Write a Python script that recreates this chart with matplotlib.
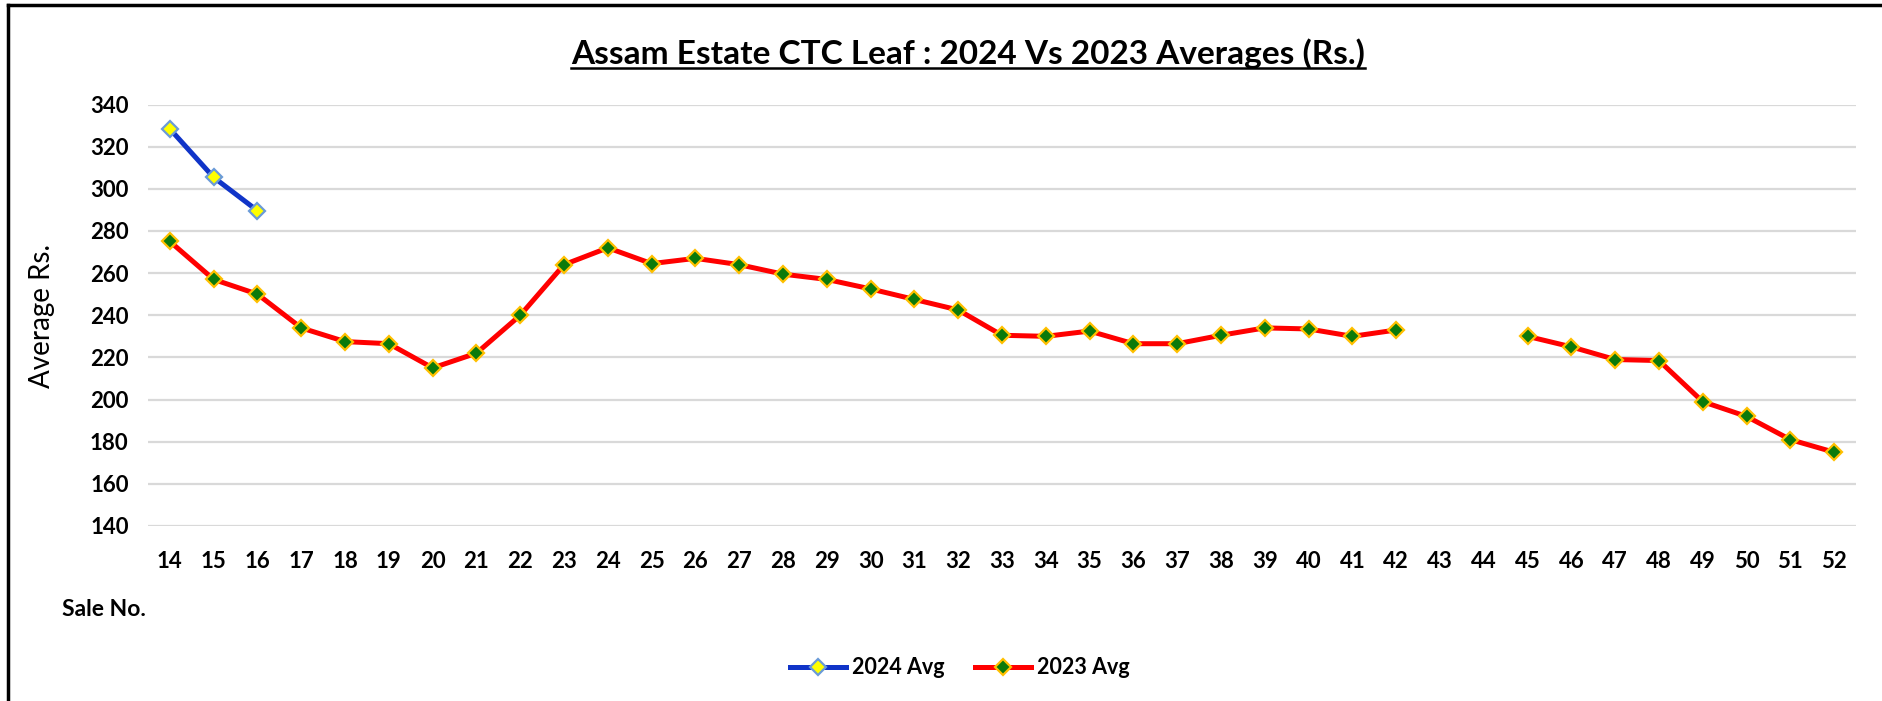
import numpy as np
import matplotlib
matplotlib.use("Agg")
import matplotlib.pyplot as plt
from matplotlib.lines import Line2D

plt.rcParams['font.family'] = ['Lato', 'DejaVu Sans']

# ---- data ----
sale_no = list(range(14, 53))
avg_2024 = [328.4, 305.4, 289.6] + [None] * 36
avg_2023 = [275, 257, 250, 234, 227.5, 226.5, 215, 222, 240, 264,
            272, 264.5, 267, 264, 259.5, 257, 252.5, 247.5, 242.5, 230.5,
            230, 232.5, 226.5, 226.5, 230.5, 234, 233.5, 230, 233, None,
            None, 230, 225, 219, 218.5, 199, 192, 181, 175]
y_ticks = [140, 160, 180, 200, 220, 240, 260, 280, 300, 320, 340]
title = "Assam Estate CTC Leaf : 2024 Vs 2023 Averages (Rs.)"

W, H = 1883, 701
fig = plt.figure(figsize=(W / 100, H / 100), dpi=100)
fig.patch.set_facecolor('white')

left, right, bottom, top = 148 / W, 1856 / W, 1 - 526 / H, 1 - 104.5 / H
ax = fig.add_axes([left, bottom, right - left, top - bottom])

y24 = np.array([np.nan if v is None else v for v in avg_2024], dtype=float)
y23 = np.array([np.nan if v is None else v for v in avg_2023], dtype=float)

ax.plot(sale_no, y24, color='#1034C8', lw=3.6, marker='D', markersize=8.5,
        markerfacecolor='#FFFF00', markeredgecolor='#6A9BD8', markeredgewidth=1.6,
        label='2024 Avg', zorder=3)
ax.plot(sale_no, y23, color='#FF0000', lw=3.6, marker='D', markersize=8.5,
        markerfacecolor='#0B7A0B', markeredgecolor='#FFC000', markeredgewidth=1.6,
        label='2023 Avg', zorder=3)

ax.set_xlim(sale_no[0] - 0.5, sale_no[-1] + 0.5)
ax.set_ylim(y_ticks[0], y_ticks[-1])
ax.set_yticks(y_ticks)
ax.set_xticks(sale_no)
ax.set_xticklabels([str(s) for s in sale_no])
ax.grid(axis='y', color='#D9D9D9', lw=1.6)
ax.set_axisbelow(True)
for s in ax.spines.values():
    s.set_visible(False)
ax.tick_params(axis='both', length=0, labelsize=16)
ax.tick_params(axis='x', pad=18)
ax.tick_params(axis='y', pad=14)
for lab in ax.get_xticklabels() + ax.get_yticklabels():
    lab.set_fontweight('bold')

# y label
fig.text(42 / W, 1 - 316 / H, 'Average Rs.', rotation=90, ha='center', va='center',
         fontsize=20)
# x label
fig.text(62 / W, 1 - 609 / H, 'Sale No.', ha='left', va='center', fontsize=16.5,
         fontweight='bold')

# title with underline
t = fig.text(968 / W, 1 - 54 / H, title, ha='center', va='center', fontsize=24,
             fontweight='bold')
fig.canvas.draw()
bb = t.get_window_extent(renderer=fig.canvas.get_renderer())
uy = (bb.y0 + 1) / H
fig.add_artist(Line2D([bb.x0 / W, bb.x1 / W], [uy, uy], color='black', lw=1.8,
                      transform=fig.transFigure))

# legend
leg = fig.legend(handles=ax.get_lines(), labels=['2024 Avg', '2023 Avg'],
                 loc='center', bbox_to_anchor=(960 / W, 1 - 668 / H), ncol=2,
                 frameon=False, fontsize=15.5, handlelength=2.6, handletextpad=0.3,
                 columnspacing=1.4)
for tx in leg.get_texts():
    tx.set_fontweight('bold')

# outer frame (left and top)
fig.add_artist(Line2D([8 / W, 8 / W], [0, 1 - 5 / H], color='black', lw=2.5,
                      transform=fig.transFigure))
fig.add_artist(Line2D([8 / W, 1], [1 - 5 / H, 1 - 5 / H], color='black', lw=2.5,
                      transform=fig.transFigure))

fig.savefig('out.png', dpi=100, facecolor='white')
